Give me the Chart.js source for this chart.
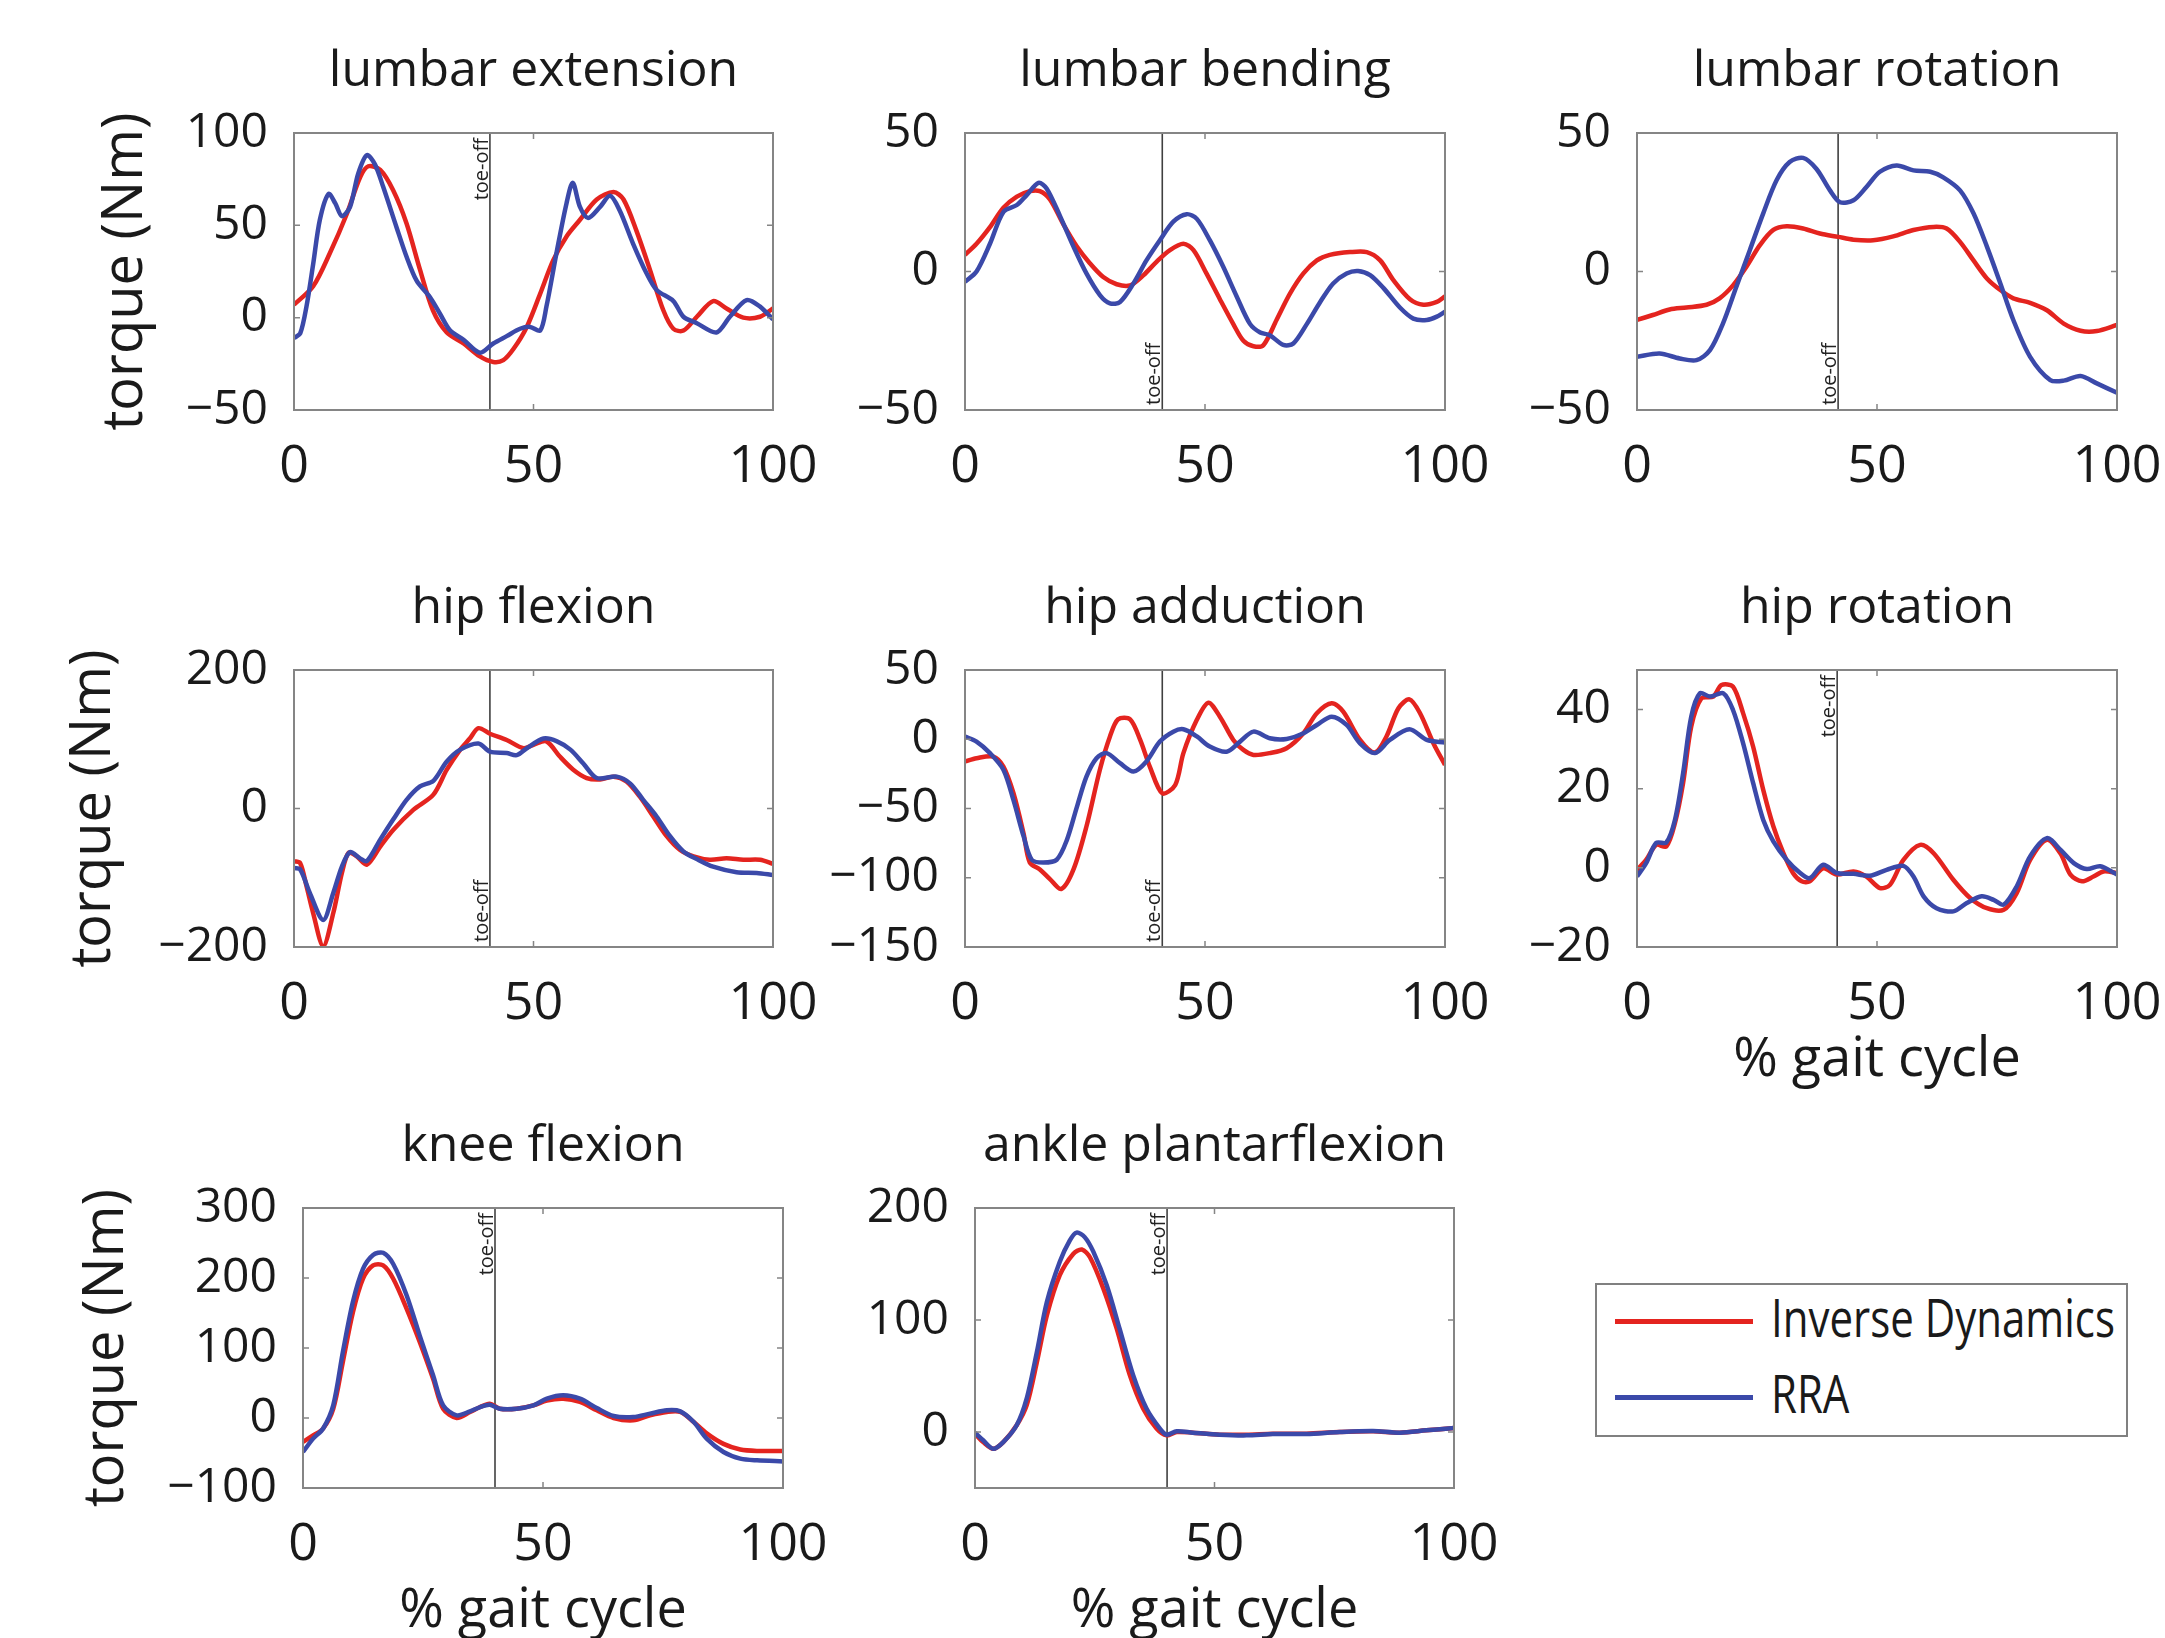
<!DOCTYPE html>
<html>
<head>
<meta charset="utf-8">
<script src="https://cdn.jsdelivr.net/npm/chart.js@4.4.1/dist/chart.umd.min.js"></script>
<style>
  html, body { margin: 0; padding: 0; background: #ffffff; width: 2165px; height: 1638px; overflow: hidden; }
  #stage { position: relative; width: 2165px; height: 1638px; }
  .wrap { position: absolute; }
  .wrap canvas { display: block; }
  #legend { position: absolute; left: 1595px; top: 1283px; width: 533px; height: 154px; box-sizing: border-box;
            border: 2px solid #808080; background: #fff; font-family: 'Open Sans', 'Noto Sans', sans-serif; color: #1a1a1a; }
  #legend .sw { position: absolute; left: 18px; width: 138px; height: 5px; }
  #legend .lb { position: absolute; left: 174px; font-size: 42px; line-height: 42px; white-space: nowrap;
                transform: scale(1, 1.25); transform-origin: left center; }
</style>
</head>
<body>
<div id="stage"></div>
<script>
// ---------------- DATA ----------------
const seriesNames  = ['Inverse Dynamics', 'RRA'];
const seriesColors = ['#e4241f', '#3b49a9'];

const panelTitles = ['lumbar extension', 'lumbar bending', 'lumbar rotation',
                     'hip flexion', 'hip adduction', 'hip rotation',
                     'knee flexion', 'ankle plantarflexion'];
const yMin  = [-50, -50, -50, -200, -150, -20, -100, -50];
const yMax  = [100, 50, 50, 200, 50, 50, 300, 200];
const yStep = [50, 50, 50, 200, 50, 20, 100, 100];
const xTickStep = 50;
const toeOff = [40.9, 41.1, 41.9, 40.9, 41.1, 41.7, 40.0, 40.1];
const toeOffLabel = 'toe-off';
const yAxisTitle = 'torque (Nm)';
const xAxisTitle = '% gait cycle';

// lumbar extension
const lumbarExt_ID_x  = [0,4,7.5,11,13.8,15.5,18,20.7,23.5,26.3,29,31.9,35.4,38.8,41.6,43.7,45.8,48.6,51.4,54.1,56.9,59.7,63.2,66.7,68.8,71.5,74.3,77.1,79.2,81.3,84.1,87.5,90.3,93.8,97.3,100];
const lumbarExt_ID_y  = [7,17,35,56,76,82,80,69,51,26,4,-8,-14,-21,-24,-23,-17,-5,13,31,44,53,64,68,64,47,26,4,-6,-7,0.5,9,5,0,0.5,5];
const lumbarExt_RRA_x = [0,1.3,2.6,4,5.4,7.2,8.6,10,11.7,13.4,15.2,16.9,18.6,21.4,23.5,25.6,28.4,30.5,32.6,35.4,38.8,41.6,44.4,47.2,49.3,51.4,52.7,54.8,56.9,58.2,59.7,61.4,63.9,66,68,70.8,73.6,75.7,79.2,81.3,84.1,88.2,91,94.5,97.3,100];
const lumbarExt_RRA_y = [-11,-8.5,6,29,53,67,62,55,60,78,88,83,71,49,33,20,11,2,-7,-12,-19,-14,-10,-6,-5,-7,6,35,62,73,60,54,60,66,58,40,24,15,9,0.5,-3,-8,0.5,9.5,6,-1];

// lumbar bending
const lumbarBend_ID_x  = [0,2.4,5.2,8,10.8,13.5,15.6,17.7,20.5,23.3,26,28.8,31.6,34.4,37.2,39.9,42.7,45.5,47.6,50.3,53.1,55.9,58,60.1,62.2,64.9,67.7,70.5,73.3,76,80.2,83.7,86.5,89.2,92.7,95.5,98.3,100];
const lumbarBend_ID_y  = [6,10,16,23,27,29,29,26,17,9,3,-2,-4.6,-5,-1.3,3.5,7.7,10,7.7,-0.7,-10,-19,-25,-27,-26.5,-17.5,-8,-0.7,4,6,7,7,4,-3,-10,-12,-11,-9];
const lumbarBend_RRA_x = [0,2.4,5.2,8,10.8,12.8,15.3,17,19.8,22.6,25.3,28.1,30.2,32.3,35.1,37.8,40.6,43.4,46.2,48.3,51,53.8,56.6,59.4,61.5,63.5,66.3,68.4,71.2,74,76.7,79.5,81.9,84.4,87.2,90.6,93.4,96.2,98.3,100];
const lumbarBend_RRA_y = [-3.7,0,10,21.5,24,27.5,32,30,20,9,-0.7,-8.5,-11.5,-11,-4.3,4,11.3,18,20.7,19,11.3,1.7,-9,-19,-22,-23,-26.5,-26,-19,-11,-4.3,-0.7,0.2,-1.3,-6,-13,-17,-17.5,-16.3,-14.5];

// lumbar rotation
const lumbarRot_ID_x  = [0,3.3,6.8,10.3,14.5,17.2,20,22.8,25.6,28.4,31.2,34.6,38.1,41.9,45.1,49.2,53.4,57.6,61.8,64.5,67.3,70.1,72.9,75.7,78.4,81.9,85.4,88.9,92.4,95.8,100];
const lumbarRot_ID_y  = [-17.5,-15.7,-13.7,-13,-12,-9.7,-5,1.7,9.5,15,16.3,15.5,13.7,12.5,11.5,11.3,12.7,15,16.1,15.5,10.7,4,-2.5,-6.7,-9.7,-11.3,-14,-18.8,-21.4,-21.5,-19.3];
const lumbarRot_RRA_x = [0,4.7,8.9,12.4,15.2,17.9,20.7,23.5,26.3,29.1,31.8,34.6,37.4,40.2,42.3,45.1,47.8,50.6,54.1,57.6,61.1,63.8,67.3,70.1,72.9,75.7,78.4,81.9,86.1,88.9,92.4,95.8,100];
const lumbarRot_RRA_y = [-30.8,-29.6,-31.4,-32,-28.4,-18.8,-5.5,7.7,21,33,39.5,41,37,29.3,25,25.7,30.5,36,38.3,36.5,36,34,29.3,21,9,-4.3,-17.5,-30.8,-39.2,-39.4,-37.7,-40.4,-43.8];

// hip flexion
const hipFlex_ID_x  = [0,1.3,2.6,4,6.1,8.2,10,11.4,13.1,15.2,18,20.7,24.9,29.1,31.9,34.7,36.7,38.5,40.9,44.4,47.9,50,52.7,55.5,58.3,61.1,63.9,66.7,69.4,72.2,75,77.8,80.6,83.4,86.8,90.3,93.8,97.3,100];
const hipFlex_ID_y  = [-76,-79,-112,-151,-199,-151,-93,-64,-69,-81,-55,-31,-2,20,56,85,101,116,108,99,87,92,97,75,56,44,42,46,39,17,-11.5,-40,-60,-69,-74,-72,-74,-74,-80];
const hipFlex_RRA_x = [0,1.3,3.3,6.1,8.2,10,11.7,13.8,15.2,18,20.7,23.5,26.3,29.1,31.9,34.7,38.5,40.9,44.4,46.5,48.6,52.1,54.9,57.7,60.4,63.2,67.4,70.2,72.9,75.7,78.5,81.3,84.1,87.5,92.4,96.6,100];
const hipFlex_RRA_y = [-86,-88,-122,-161,-122,-84,-63,-72,-76,-45,-16,12.5,32,40,68,85,94,82,80,77,87,101,97,85,65,44,46,36,12.5,-11.5,-40,-62,-73,-84,-92,-93,-96];

// hip adduction
const hipAdd_ID_x  = [0,2.4,5.9,8,10.1,12.2,13.5,15.6,17.7,20.1,22.6,25.3,28.1,30.2,31.9,34.4,36.5,38.5,41.1,43.8,45.5,48.3,50.7,53.1,55.9,58,60.1,63.5,67,70.5,73.3,76.4,78.8,82.3,85.4,87.8,90.3,92.6,94.8,97.6,100];
const hipAdd_ID_y  = [-16,-13.7,-12.5,-19.7,-39,-68,-89,-94,-101,-108,-94,-63,-22,2,14.4,14.4,-0.5,-19.7,-39,-33,-10,14,26.4,16.3,-0.5,-7.7,-11.3,-10,-6.5,4.3,18.8,26,20,-0.5,-9.6,2,22.4,28.8,18.8,-3,-18.5];
const hipAdd_RRA_x = [0,2.4,5.2,8,10.1,12.2,13.9,16.3,19.1,21.2,23.3,25.3,27.4,29.5,32.3,35.1,37.8,40.6,43.4,45.5,48.3,51,54.5,57.3,60.1,63.5,67,70.5,73.3,76.4,79.5,82.3,85.4,88.5,92.6,96.2,100];
const hipAdd_RRA_y = [2,-1.7,-10,-22,-44,-70,-87,-89,-87,-73,-49,-27,-13.7,-10,-17.3,-23.3,-16,-1.7,5.5,7.2,2,-5.3,-9,-1.7,5.5,0.7,0.2,4.3,10.3,16.3,10.3,-3,-10,-0.5,7.2,-0.5,-2.4];

// hip rotation
const hipRot_ID_x  = [0,1.9,4,6.1,7.9,9.6,11.3,13.4,15.9,17.6,20,22.1,24.2,26.3,28.4,30.5,32.5,34.3,36,38.8,41.6,45.1,47.8,50.6,52.7,55.5,59,61.8,65.9,69.4,72.9,76.4,79.1,81.9,85.4,88.2,90.3,92.7,95.1,97.2,100];
const hipRot_ID_y  = [-0.5,2,5.8,5.4,11.3,21.4,35.7,42.8,43.3,46.2,45.8,39.1,30.6,19.7,10.5,3.7,-1.3,-3.4,-3.4,-0.1,-1.7,-0.9,-2.2,-5.1,-4.3,2,5.8,3.7,-3,-7.6,-10.2,-10.6,-6.4,2,7.1,3.7,-1.7,-3.4,-2.2,-0.9,-1.3];
const hipRot_RRA_x = [0,1.9,4,6.1,7.9,9.6,11.3,13.1,15.2,18,20,22.1,24.2,26.3,28.4,31.2,34,36,38.8,41.6,45.1,48.5,52,55.5,57.6,59.7,62.4,65.9,68.7,71.8,74.3,76.4,79.1,81.9,85.4,88.2,91,93.7,96.5,100];
const hipRot_RRA_y = [-2.2,1.2,6.3,6.4,12.1,23.9,38.2,44.1,43.3,44.1,39.9,31.5,21.4,12.1,6.7,2,-1.3,-2.6,0.8,-1.3,-1.5,-2,-0.5,0.5,-2.2,-7.2,-10.2,-11,-8.9,-7.2,-8.1,-9.3,-4.7,2.9,7.5,4.6,1.2,-0.3,0.4,-1.7];

// knee flexion
const knee_ID_x  = [0,2.1,4.2,6.3,8.3,10.4,12.5,14.6,16.7,18.8,21.6,24.3,27.1,29.2,32,34.8,36.9,38.9,41,44.5,48,50.8,54.2,57.7,61.2,64.7,68.8,72.3,75.8,78.6,81.4,84.1,87.6,91.1,94.6,100];
const knee_ID_y  = [-34,-25,-15,13,80,151,199,218,218,199,156,109,56,13,0,8.6,15.7,20.5,13.3,13.3,18,25,27.6,23,11,0,-3.3,3.8,8.6,8.6,-5.7,-22,-37,-45,-47,-47];
const knee_RRA_x = [0,2.1,4.2,6.3,8.3,10.4,12.5,14.6,16.7,18.8,21.6,24.3,27.1,29.2,32,34.8,36.9,38.9,41,44.5,48,50.8,54.2,57.7,61.2,64.7,68.8,72.3,75.8,78.6,81.4,84.1,87.6,91.1,94.6,100];
const knee_RRA_y = [-48.6,-29.5,-15,18,94,166,213,233,236,220,175,118,61,18,3.8,9.5,15.7,19,13.3,13.3,18,27.6,32.4,27.6,14.3,2.9,1.4,6.2,11,9.5,-5.7,-29.5,-48.6,-58,-60.5,-62];

// ankle plantarflexion
const ankle_ID_x  = [0,1.7,3.8,5.9,8.7,10.8,12.9,15,17.7,20.5,22.3,24,26.8,29.6,32.3,35.1,37.9,40,42.1,45.5,51.1,56.7,62.2,69.2,76.1,83.1,88.7,94.2,100];
const ankle_ID_y  = [-1.5,-9,-15,-9,6,24,62,104,140,159,163,156,128,92,51,21,3,-3,0,-0.6,-2.4,-2.4,-1.5,-1.5,0,0.6,-0.6,1.5,3.6];
const ankle_RRA_x = [0,1.7,3.8,5.9,8.7,10.8,12.9,15,17.7,19.8,21.2,22.9,24.7,27.5,30.2,33,35.8,38.6,40,42.1,45.5,51.1,56.7,62.2,69.2,76.1,83.1,88.7,94.2,100];
const ankle_RRA_y = [-0.6,-7.4,-15,-9,6,30,71,116,152,171,178,174,161,131,92,51,21,3,-2.4,0.6,-0.6,-2.4,-3,-1.8,-1.8,0,0.9,-0.6,1.5,3.6];

const seriesX_ID  = [lumbarExt_ID_x, lumbarBend_ID_x, lumbarRot_ID_x, hipFlex_ID_x, hipAdd_ID_x, hipRot_ID_x, knee_ID_x, ankle_ID_x];
const seriesY_ID  = [lumbarExt_ID_y, lumbarBend_ID_y, lumbarRot_ID_y, hipFlex_ID_y, hipAdd_ID_y, hipRot_ID_y, knee_ID_y, ankle_ID_y];
const seriesX_RRA = [lumbarExt_RRA_x, lumbarBend_RRA_x, lumbarRot_RRA_x, hipFlex_RRA_x, hipAdd_RRA_x, hipRot_RRA_x, knee_RRA_x, ankle_RRA_x];
const seriesY_RRA = [lumbarExt_RRA_y, lumbarBend_RRA_y, lumbarRot_RRA_y, hipFlex_RRA_y, hipAdd_RRA_y, hipRot_RRA_y, knee_RRA_y, ankle_RRA_y];

// ---------------- LAYOUT (page pixels of each plot box) ----------------
const plotBoxes = [[294,133,773,410],[965,133,1445,410],[1637,133,2117,410],
                   [294,670,773,947],[965,670,1445,947],[1637,670,2117,947],
                   [303,1208,783,1488],[975,1208,1454,1488]];
const yAxisWidth = [202,150,150,234,150,150,230,150];
const showYTitle = [true,false,false,true,false,false,true,false];
const showXTitle = [false,false,false,false,false,true,true,true];
const xAxisHeight = [100,100,100,100,100,150,160,160];
const toeLabelPos = ['top','bottom','bottom','bottom','bottom','top','top','top'];

const FONT = "'Open Sans', 'Noto Sans', sans-serif";
const TXT = '#1a1a1a';
Chart.defaults.color = TXT;
Chart.defaults.font.family = FONT;

const fmt = v => (v < 0 ? '\u2212' + Math.abs(v) : String(v));
const zip = (xs, ys) => xs.map((x, i) => ({x: x, y: ys[i]}));

const framePlugin = {
  id: 'frame',
  afterDraw(chart) {
    const {ctx, chartArea: a, scales} = chart;
    const x = scales.x, y = scales.y;
    ctx.save();
    ctx.strokeStyle = '#858585';
    ctx.lineWidth = 2;
    ctx.strokeRect(a.left, a.top, a.right - a.left, a.bottom - a.top);
    ctx.lineWidth = 1.5;
    const L = 6;
    ctx.beginPath();
    y.ticks.forEach(t => {
      const py = y.getPixelForValue(t.value);
      ctx.moveTo(a.left, py); ctx.lineTo(a.left + L, py);
      ctx.moveTo(a.right, py); ctx.lineTo(a.right - L, py);
    });
    x.ticks.forEach(t => {
      const px = x.getPixelForValue(t.value);
      ctx.moveTo(px, a.top); ctx.lineTo(px, a.top + L);
      ctx.moveTo(px, a.bottom); ctx.lineTo(px, a.bottom - L);
    });
    ctx.stroke();
    ctx.restore();
  }
};

const toeOffPlugin = {
  id: 'toeoff',
  beforeDatasetsDraw(chart, args, opts) {
    const {ctx, chartArea: a, scales} = chart;
    const px = scales.x.getPixelForValue(opts.value);
    ctx.save();
    ctx.strokeStyle = '#404040';
    ctx.lineWidth = 1.6;
    ctx.beginPath();
    ctx.moveTo(px, a.top); ctx.lineTo(px, a.bottom);
    ctx.stroke();
    ctx.fillStyle = '#222';
    ctx.font = '20px ' + FONT;
    ctx.textBaseline = 'alphabetic';
    if (opts.pos === 'top') {
      ctx.translate(px - 2, a.top + 5);
      ctx.rotate(-Math.PI / 2);
      ctx.textAlign = 'right';
    } else {
      ctx.translate(px - 2, a.bottom - 5);
      ctx.rotate(-Math.PI / 2);
      ctx.textAlign = 'left';
    }
    ctx.fillText(opts.label, 0, 0);
    ctx.restore();
  }
};

const stage = document.getElementById('stage');
const PAD_L = 5, PAD_R = 80, PAD_T = 10, PAD_B = 5;
const TITLE_SIZE = 50, TITLE_PAD_B = 31;
const TITLE_BLOCK = TITLE_SIZE * 1.2 + TITLE_PAD_B;

panelTitles.forEach((title, i) => {
  const [L, T, R, B] = plotBoxes[i];
  const Wy = yAxisWidth[i];
  const Hx = xAxisHeight[i];
  const w = PAD_L + Wy + (R - L) + PAD_R;
  const h = PAD_T + TITLE_BLOCK + (B - T) + Hx + PAD_B;
  const wrap = document.createElement('div');
  wrap.className = 'wrap';
  wrap.style.left = (L - Wy - PAD_L) + 'px';
  wrap.style.top = (T - TITLE_BLOCK - PAD_T) + 'px';
  wrap.style.width = w + 'px';
  wrap.style.height = h + 'px';
  const canvas = document.createElement('canvas');
  wrap.appendChild(canvas);
  stage.appendChild(wrap);
  const step = yStep[i];

  new Chart(canvas, {
    type: 'line',
    data: {
      datasets: [
        { label: seriesNames[0], data: zip(seriesX_ID[i], seriesY_ID[i]), borderColor: seriesColors[0],
          backgroundColor: seriesColors[0], borderWidth: 4.5, pointRadius: 0, tension: 0.3, fill: false, order: 1 },
        { label: seriesNames[1], data: zip(seriesX_RRA[i], seriesY_RRA[i]), borderColor: seriesColors[1],
          backgroundColor: seriesColors[1], borderWidth: 4.5, pointRadius: 0, tension: 0.3, fill: false, order: 0 }
      ]
    },
    options: {
      responsive: true,
      maintainAspectRatio: false,
      animation: false,
      devicePixelRatio: 1,
      events: [],
      layout: { padding: { left: PAD_L, right: PAD_R, top: PAD_T, bottom: PAD_B } },
      plugins: {
        legend: { display: false },
        tooltip: { enabled: false },
        title: { display: true, text: title, fullSize: false, color: TXT,
                 font: { family: FONT, size: TITLE_SIZE, lineHeight: 1.2, weight: 'normal' },
                 padding: { top: 0, bottom: TITLE_PAD_B } },
        toeoff: { value: toeOff[i], pos: toeLabelPos[i], label: toeOffLabel }
      },
      scales: {
        x: {
          type: 'linear', min: 0, max: 100,
          grid: { display: false, drawTicks: false },
          border: { display: false },
          ticks: { stepSize: xTickStep, padding: 26, color: TXT, autoSkip: false, maxRotation: 0,
                   font: { family: FONT, size: 52 }, callback: fmt },
          title: { display: showXTitle[i], text: xAxisTitle, color: TXT,
                   font: { family: FONT, size: 54 }, padding: { top: 0, bottom: 4 } },
          afterFit: s => { s.height = Hx; }
        },
        y: {
          type: 'linear', min: yMin[i], max: yMax[i],
          grid: { display: false, drawTicks: false },
          border: { display: false },
          ticks: { stepSize: step, padding: 26, color: TXT, autoSkip: false,
                   font: { family: FONT, size: 48 }, callback: fmt },
          afterBuildTicks: s => {
            const ticks = [];
            for (let v = Math.ceil(s.min / step) * step; v <= s.max + 1e-9; v += step) ticks.push({ value: v });
            s.ticks = ticks;
          },
          title: { display: showYTitle[i], text: yAxisTitle, color: TXT,
                   font: { family: FONT, size: 56 }, padding: { top: 0, bottom: 0 } },
          afterFit: s => { s.width = Wy; }
        }
      }
    },
    plugins: [toeOffPlugin, framePlugin]
  });
});

// legend (separate box, as in the reference)
const legend = document.createElement('div');
legend.id = 'legend';
const legendRowsY = [38, 114];
seriesNames.forEach((name, k) => {
  const sw = document.createElement('div');
  sw.className = 'sw';
  sw.style.top = (legendRowsY[k] - 2.5 - 2) + 'px';
  sw.style.background = seriesColors[k];
  const lb = document.createElement('div');
  lb.className = 'lb';
  lb.style.top = (legendRowsY[k] - 21 - 2 - 4) + 'px';
  lb.textContent = name;
  legend.appendChild(sw);
  legend.appendChild(lb);
});
stage.appendChild(legend);
</script>
</body>
</html>
